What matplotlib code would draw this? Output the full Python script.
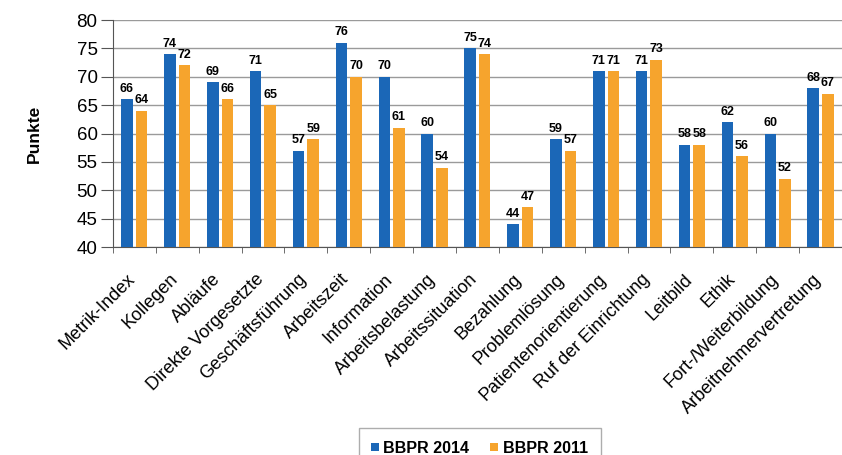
import matplotlib
matplotlib.use("Agg")
import matplotlib.pyplot as plt
import matplotlib.transforms as mtransforms
import numpy as np

categories = ["Metrik-Index", "Kollegen", "Abläufe", "Direkte Vorgesetzte",
              "Geschäftsführung", "Arbeitszeit", "Information", "Arbeitsbelastung",
              "Arbeitssituation", "Bezahlung", "Problemlösung", "Patientenorientierung",
              "Ruf der Einrichtung", "Leitbild", "Ethik", "Fort-/Weiterbildung",
              "Arbeitnehmervertretung"]
bbpr_2014 = [66, 74, 69, 71, 57, 76, 70, 60, 75, 44, 59, 71, 71, 58, 62, 60, 68]
bbpr_2011 = [64, 72, 66, 65, 59, 70, 61, 54, 74, 47, 57, 71, 73, 58, 56, 52, 67]

plt.rcParams['font.family'] = ['Liberation Sans', 'DejaVu Sans']

fig = plt.figure(figsize=(8.42, 4.55), dpi=100)
ax = fig.add_axes([0.134, 0.457, 0.866, 0.499])

x = np.arange(len(categories))
w = 0.27
blue = "#1b67b7"
orange = "#f6a42d"
b1 = ax.bar(x - 0.17, [v - 40 for v in bbpr_2014], w, bottom=40, color=blue, zorder=3, label="BBPR 2014")
b2 = ax.bar(x + 0.17, [v - 40 for v in bbpr_2011], w, bottom=40, color=orange, zorder=3, label="BBPR 2011")

for xi, v in zip(x, bbpr_2014):
    ax.text(xi - 0.17, v + 0.8, str(v), ha="center", va="bottom", fontsize=9, fontweight="bold")
for xi, v in zip(x, bbpr_2011):
    ax.text(xi + 0.17, v + 0.8, str(v), ha="center", va="bottom", fontsize=9, fontweight="bold")

ax.set_xlim(-0.5, len(categories) - 0.5)
ax.set_ylim(40, 80)
ax.set_yticks(range(40, 81, 5))
ax.yaxis.grid(True, color="#9a9a9a", linewidth=1, zorder=0)
ax.tick_params(axis="y", labelsize=13.5, length=9, color="#555555", pad=2)

ax.set_xticks(x)
ax.set_xticklabels(categories, rotation=45, ha="right", rotation_mode="anchor", fontsize=13)
ax.tick_params(axis="x", which="major", length=0, pad=17)
ax.set_xticks(np.arange(-0.5, len(categories), 1), minor=True)
ax.tick_params(axis="x", which="minor", length=4, color="#555555")
shift = mtransforms.ScaledTranslation(-8 / 100, 0, fig.dpi_scale_trans)
for lbl in ax.get_xticklabels():
    lbl.set_transform(lbl.get_transform() + shift)

for s in ["top", "right"]:
    ax.spines[s].set_visible(False)
ax.spines["left"].set_color("#555555")
ax.spines["bottom"].set_color("#555555")

ax.set_ylabel("Punkte", fontsize=12.5, fontweight="bold", labelpad=25)

fig.legend(handles=[b1, b2], loc="upper center", bbox_to_anchor=(0.5695, 0.0593), ncol=2,
           prop={"weight": "bold", "size": 11.6}, borderaxespad=0,
           frameon=True, fancybox=False,
           edgecolor="#999999", handlelength=0.45, handleheight=0.45, handletextpad=0.3,
           columnspacing=1.3, borderpad=0.8)

fig.savefig("out.png", dpi=100)
